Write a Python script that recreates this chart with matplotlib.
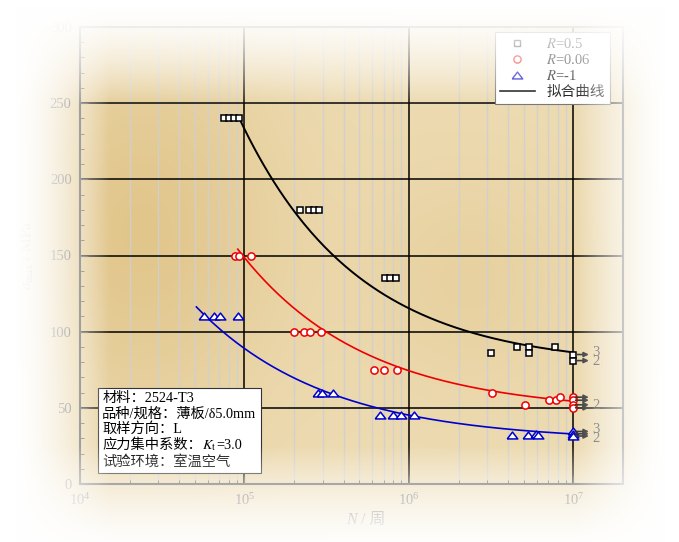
import numpy as np
import matplotlib
matplotlib.use('Agg')
import matplotlib.pyplot as plt
from matplotlib.lines import Line2D
from matplotlib.ticker import NullFormatter, MultipleLocator, LogLocator
from matplotlib.offsetbox import TextArea, HPacker, VPacker, AnchoredOffsetbox
from matplotlib.font_manager import FontProperties

plt.rcParams['font.family'] = ['Liberation Serif', 'Noto Sans CJK SC']
plt.rcParams['mathtext.fontset'] = 'stix'

# ---------------- data ----------------
r05_N = [7.5e4, 8.0e4, 8.6e4, 9.2e4, 2.17e5, 2.47e5, 2.65e5, 2.84e5,
         7.1e5, 7.7e5, 8.3e5, 3.13e6, 4.54e6, 5.38e6, 5.38e6, 7.67e6]
r05_S = [240, 240, 240, 240, 180, 180, 180, 180,
         135, 135, 135, 86, 90, 90, 86, 90]
r05_runout_S = [85, 81]
r05_runout_label = '3\n2'
r05_label_S = 83.5

r006_N = [8.7e4, 9.2e4, 1.09e5, 2.01e5, 2.31e5, 2.50e5, 2.92e5,
          6.1e5, 7.05e5, 8.4e5, 3.2e6, 5.1e6, 7.05e6, 7.85e6, 8.3e6]
r006_S = [150, 150, 150, 100, 100, 100, 100,
          75, 75, 75, 60, 52, 55, 55, 57]
r006_runout_S = [57, 55, 52, 50]
r006_runout_label = '2'
r006_label_S = 51.5

rm1_N = [5.7e4, 6.5e4, 7.1e4, 9.1e4, 2.78e5, 2.95e5, 3.43e5,
         6.67e5, 8.0e5, 9.0e5, 1.08e6, 4.2e6, 5.3e6, 5.9e6, 6.1e6]
rm1_S = [110, 110, 110, 110, 60, 60, 60,
         45, 45, 45, 45, 32, 32, 33, 32]
rm1_runout_S = [34.5, 33, 31.5]
rm1_runout_label = '3\n2'
rm1_label_S = 32.5

runout_N = 1e7

# fitted curves  S = S0 + C * N^(-k)
fit_r05 = dict(S0=77.0, C=175000.0, k=0.61, Nmin=9.2e4, Nmax=1e7)
fit_r006 = dict(S0=47.0, C=71900.0, k=0.57, Nmin=9.1e4, Nmax=1e7)
fit_rm1 = dict(S0=28.0, C=34270.0, k=0.55, Nmin=5.1e4, Nmax=1e7)

legend_labels = ['$R$=0.5', '$R$=0.06', '$R$=-1', '拟合曲线']
info_lines = ['材料：2524-T3', '品种/规格：薄板/δ5.0mm', '取样方向：L',
              ('应力集中系数：', r'$K_{\rm t}$', '=3.0'), '试验环境：室温空气']
x_label_parts = ('N', ' / 周')
y_label = r'$\sigma_{\rm max}$ / MPa'

FAM = ['Liberation Serif', 'Noto Sans CJK SC']

# ---------------- figure ----------------
W, H = 679, 542
fig = plt.figure(figsize=(W / 100, H / 100), dpi=100, facecolor='white')

# parchment background
bg = fig.add_axes([0, 0, 1, 1], zorder=0)
bg.axis('off')
yy, xx = np.mgrid[0:H, 0:W].astype(float)
light = np.array([0.93, 0.86, 0.70])
dark = np.array([0.87, 0.75, 0.50])
w = (0.75 * np.exp(-((xx - 140) / 140) ** 2 - ((yy - 230) / 190) ** 2)
     + 0.35 * np.exp(-((xx - 470) / 110) ** 2 - ((yy - 280) / 120) ** 2))
w = np.clip(w, 0, 1)
img = light * (1 - w[..., None]) + dark * w[..., None]
bg.imshow(img, extent=(0, 1, 0, 1), aspect='auto', origin='upper')
bg.set_xlim(0, 1)
bg.set_ylim(0, 1)

# main axes
ax = fig.add_axes([80 / W, 1 - 484 / H, 543 / W, 457 / H], zorder=2)
ax.patch.set_alpha(0)
ax.set_xscale('log')
ax.set_xlim(1e4, 2e7)
ax.set_ylim(0, 300)
ax.yaxis.set_major_locator(MultipleLocator(50))
ax.yaxis.set_minor_locator(MultipleLocator(10))
ax.xaxis.set_major_locator(LogLocator(base=10, numticks=10))
ax.xaxis.set_minor_locator(LogLocator(base=10, subs=np.arange(2, 10), numticks=20))
ax.xaxis.set_minor_formatter(NullFormatter())
ax.set_axisbelow(True)
ax.grid(True, which='major', color='black', lw=1.1)
ax.grid(True, which='minor', axis='x', color='#d0d0d0', lw=1.0, alpha=0.9)
for s in ax.spines.values():
    s.set_color('#555555')
    s.set_linewidth(1.5)
ax.tick_params(which='both', direction='in', colors='#555555', labelsize=10.5)
ax.tick_params(which='major', length=6, pad=6)
ax.tick_params(which='minor', length=3)
ax.set_xticks([1e4, 1e5, 1e6, 1e7])
ax.set_ylabel(y_label, fontsize=11, color='#555555', labelpad=10)

# x label (italic N + CJK unit), packed so CJK glyphs use the CJK font
xl_props_i = dict(fontsize=11.5, color='#444444', family=FAM, fontstyle='italic')
xl_props = dict(fontsize=11.5, color='#444444', family=FAM)
xl_box = HPacker(children=[TextArea(x_label_parts[0], textprops=xl_props_i),
                           TextArea(x_label_parts[1], textprops=xl_props)],
                 pad=0, sep=0, align='baseline')
xl_anc = AnchoredOffsetbox(loc='center', child=xl_box, pad=0, borderpad=0,
                           frameon=False,
                           bbox_to_anchor=((366 - 80) / 543, (484 - 520) / 457),
                           bbox_transform=ax.transAxes)
xl_anc.set_clip_on(False)
ax.add_artist(xl_anc)

tri = [(-1, -0.65), (1, -0.65), (0, 0.65), (-1, -0.65)]

def curve(p):
    N = np.logspace(np.log10(p['Nmin']), np.log10(p['Nmax']), 200)
    return N, p['S0'] + p['C'] * N ** (-p['k'])

series = [
    (r05_N, r05_S, r05_runout_S, r05_runout_label, r05_label_S, fit_r05, 'black', 's', 4.4, 1.4),
    (r006_N, r006_S, r006_runout_S, r006_runout_label, r006_label_S, fit_r006, '#ee0000', 'o', 5.2, 1.2),
    (rm1_N, rm1_S, rm1_runout_S, rm1_runout_label, rm1_label_S, fit_rm1, '#0000cc', tri, 7.6, 1.2),
]

for N, S, rS, rL, lS, fit, col, mk, ms, lw in series:
    cN, cS = curve(fit)
    ax.plot(cN, cS, color=col, lw=lw, zorder=3)
    ax.plot(N, S, ls='none', marker=mk, ms=ms, mfc='white', mec=col, mew=1.1, zorder=4)
    ax.plot([runout_N] * len(rS), rS, ls='none', marker=mk, ms=ms, mfc='white',
            mec=col, mew=1.1, zorder=4)
    for sv in rS:
        ax.annotate('', xy=(runout_N * 1.24, sv), xytext=(runout_N * 1.03, sv),
                    arrowprops=dict(arrowstyle='-|>', color='#333333', lw=1.2,
                                    mutation_scale=7, shrinkA=0, shrinkB=0),
                    zorder=5)
    ax.text(runout_N * 1.30, lS, rL, fontsize=10.5, color='#555555',
            va='center', ha='left', linespacing=0.6, zorder=5)

# legend
handles = [
    Line2D([], [], ls='none', marker='s', ms=4.4, mfc='white', mec='black', mew=1.0),
    Line2D([], [], ls='none', marker='o', ms=5.2, mfc='white', mec='#ee0000', mew=1.0),
    Line2D([], [], ls='none', marker=tri, ms=7.6, mfc='white', mec='#0000cc', mew=1.0),
    Line2D([], [], color='black', lw=1.2),
]
leg = ax.legend(handles, legend_labels, loc='upper right',
                bbox_to_anchor=((610 - 80) / 543, (484 - 32) / 457),
                borderaxespad=0, frameon=True, fancybox=False, framealpha=1,
                edgecolor='#777777', facecolor='white', handlelength=2.4,
                labelspacing=0.15, handletextpad=0.8, borderpad=0.35,
                prop=FontProperties(family=FAM, size=10.5))
leg.get_frame().set_linewidth(0.8)
leg.set_zorder(6)

# info box
tp = dict(fontsize=10.3, color='black', family=FAM)
rows = []
for ln in info_lines:
    if isinstance(ln, tuple):
        rows.append(HPacker(children=[TextArea(t, textprops=tp) for t in ln], pad=0, sep=0, align='baseline'))
    else:
        rows.append(TextArea(ln, textprops=tp))
vbox = VPacker(children=rows, align='left', pad=0, sep=1.5)
anc = AnchoredOffsetbox(loc='lower left', child=vbox, pad=0.3, borderpad=0,
                        frameon=True,
                        bbox_to_anchor=((98 - 80) / 543, (484 - 473) / 457),
                        bbox_transform=ax.transAxes)
anc.patch.set_edgecolor('#333333')
anc.patch.set_linewidth(0.8)
anc.patch.set_facecolor('white')
anc.set_zorder(6)
ax.add_artist(anc)

# white vignette overlay
ov = fig.add_axes([0, 0, 1, 1], zorder=10)
ov.axis('off')
ov.patch.set_alpha(0)
fl = np.clip((xx - 15) / (110 - 15), 0, 1) ** 1.5
fr = np.clip((665 - xx) / (665 - 575), 0, 1) ** 1.5
ft = np.clip((yy - 5) / (105 - 5), 0, 1) ** 1.5
fb = np.clip((552 - yy) / (552 - 445), 0, 1) ** 1.5
keep = fl * fr * ft * fb
rgba = np.ones((H, W, 4))
rgba[..., 3] = 1 - keep
ov.imshow(rgba, extent=(0, 1, 0, 1), aspect='auto', origin='upper')
ov.set_xlim(0, 1)
ov.set_ylim(0, 1)

fig.savefig('out.png', dpi=100)
